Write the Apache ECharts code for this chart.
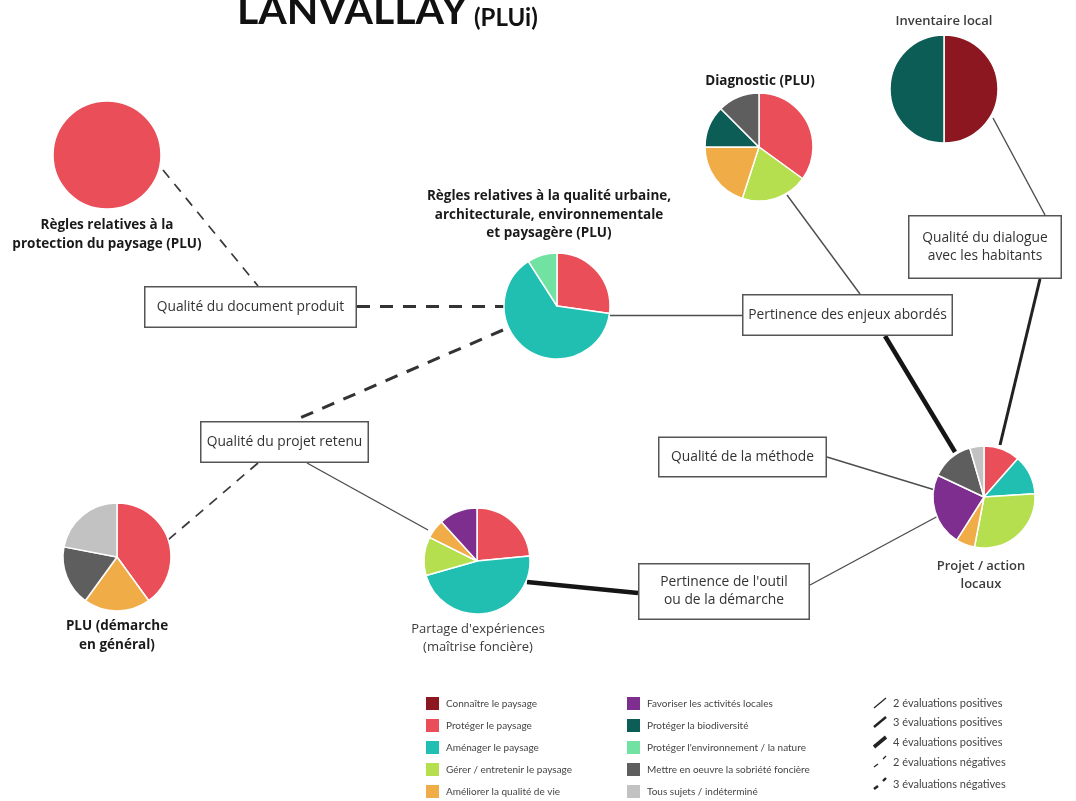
<!DOCTYPE html>
<html>
<head>
<meta charset="utf-8">
<script src="https://cdn.jsdelivr.net/npm/echarts@6/dist/echarts.min.js"></script>
<style>
  html, body { margin: 0; background: #fff; }
  #chart { width: 1076px; height: 801px; }
</style>
</head>
<body>
<div id="chart"></div>
<script>
// thématiques (ordre de la légende)
var categories = ['Connaître le paysage', 'Protéger le paysage', 'Aménager le paysage',
  'Gérer / entretenir le paysage', 'Améliorer la qualité de vie', 'Favoriser les activités locales',
  'Protéger la biodiversité', "Protéger l'environnement / la nature",
  'Mettre en oeuvre la sobriété foncière', 'Tous sujets / indéterminé'];
var catColors = ['#8c1721', '#ea4f59', '#20bfb1', '#b6df50', '#f0ac47', '#7d2e8f',
  '#0c5d55', '#72e2a2', '#5e5e5e', '#c2c2c2'];

// parts de chaque camembert (sens horaire depuis midi)
var protectionCats = ['Protéger le paysage'];
var protectionVals = [1];
var diagnosticCats = ['Protéger le paysage', 'Gérer / entretenir le paysage', 'Améliorer la qualité de vie', 'Protéger la biodiversité', 'Mettre en oeuvre la sobriété foncière'];
var diagnosticVals = [35, 20, 20, 12.5, 12.5];
var inventaireCats = ['Connaître le paysage', 'Protéger la biodiversité'];
var inventaireVals = [1, 1];
var urbaineCats = ['Protéger le paysage', 'Aménager le paysage', "Protéger l'environnement / la nature"];
var urbaineVals = [3, 7, 1];
var partageCats = ['Protéger le paysage', 'Aménager le paysage', 'Gérer / entretenir le paysage', 'Améliorer la qualité de vie', 'Favoriser les activités locales'];
var partageVals = [4, 8, 2, 1, 2];
var projetCats = ['Protéger le paysage', 'Aménager le paysage', 'Gérer / entretenir le paysage', 'Améliorer la qualité de vie', 'Favoriser les activités locales', 'Mettre en oeuvre la sobriété foncière', 'Tous sujets / indéterminé'];
var projetVals = [11.5, 12.5, 29, 6, 23, 13.5, 4.5];
var pluCats = ['Protéger le paysage', 'Améliorer la qualité de vie', 'Mettre en oeuvre la sobriété foncière', 'Tous sujets / indéterminé'];
var pluVals = [40, 20, 18, 22];

// critères d'évaluation (cadres)
var criteria = ['doc', 'enjeux', 'dialogue', 'retenu', 'methode', 'outil'];
var criteriaText = ['Qualité du document produit', 'Pertinence des enjeux abordés',
  'Qualité du dialogue\navec les habitants', 'Qualité du projet retenu',
  'Qualité de la méthode', "Pertinence de l'outil\nou de la démarche"];

// liens : [de, vers, nombre d'évaluations (négatif = évaluations négatives)]
var links = [
  ['protection', 'doc', -2], ['doc', 'urbaine', -3],
  ['urbaine', 'retenu', -3], ['retenu', 'plu', -2],
  ['retenu', 'partage', 2], ['partage', 'outil', 4], ['outil', 'projet', 2],
  ['methode', 'projet', 2], ['urbaine', 'enjeux', 2], ['diagnostic', 'enjeux', 2],
  ['enjeux', 'projet', 4], ['inventaire', 'dialogue', 2], ['dialogue', 'projet', 3]
];

var evalKinds = [2, 3, 4, -2, -3];
var evalLabels = ['2 évaluations positives', '3 évaluations positives', '4 évaluations positives',
  '2 évaluations négatives', '3 évaluations négatives'];

// ---- mise en page ----
var pieLayout = {
  protection: { center: [107, 155], r: 54, cats: protectionCats, vals: protectionVals,
    title: 'Règles relatives à la\nprotection du paysage (PLU)', tx: 107, ty: 216, bold: true },
  diagnostic: { center: [759, 147], r: 54, cats: diagnosticCats, vals: diagnosticVals,
    title: 'Diagnostic (PLU)', tx: 760, ty: 72, bold: true },
  inventaire: { center: [944, 89], r: 54, cats: inventaireCats, vals: inventaireVals,
    title: 'Inventaire local', tx: 944, ty: 12, semi: true },
  urbaine: { center: [557, 306], r: 53, cats: urbaineCats, vals: urbaineVals,
    title: 'Règles relatives à la qualité urbaine,\narchitecturale, environnementale\net paysagère (PLU)', tx: 549, ty: 187, bold: true },
  partage: { center: [477, 561], r: 53, cats: partageCats, vals: partageVals,
    title: "Partage d'expériences\n(maîtrise foncière)", tx: 478, ty: 620 },
  projet: { center: [984, 497], r: 51, cats: projetCats, vals: projetVals,
    title: 'Projet / action\nlocaux', tx: 981, ty: 557, semi: true },
  plu: { center: [117, 557], r: 54, cats: pluCats, vals: pluVals,
    title: 'PLU (démarche\nen général)', tx: 117, ty: 617, bold: true }
};
var boxLayout = {
  doc: [250.5, 307, 213, 42], enjeux: [847.5, 315, 211, 42], dialogue: [985, 247, 154, 64],
  retenu: [284.5, 442, 169, 42], methode: [742.5, 457, 169, 41], outil: [724, 591.5, 172, 57]
};
// points d'accroche des traits [depuis, vers]
var linkEnds = [
  [[163, 170], [258, 286]], [[357, 306], [507, 306]],
  [[503, 330], [293, 421]], [[258, 463], [168, 540]],
  [[307, 463], [428, 530]], [[527, 582], [638, 593]], [[810, 585], [940, 515]],
  [[827, 457], [935, 490]], [[610, 315], [742, 315]], [[787, 195], [860, 294]],
  [[885, 336], [955, 452]], [[993, 118], [1045, 215]], [[1040, 279], [1000, 445]]
];

function evalStyle(n) {
  if (n === 2) return { width: 1.4, type: 'solid', color: '#4d4d4d' };
  if (n === 3) return { width: 3, type: 'solid', color: '#222' };
  if (n === 4) return { width: 4.5, type: 'solid', color: '#151515' };
  if (n === -2) return { width: 1.7, type: [10, 8], color: '#3a3a3a' };
  return { width: 3, type: [13, 10], color: '#333' };
}

var FONT = '"Open Sans", Lato, sans-serif';
var LH = 18;
var colorOf = {};
categories.forEach(function (c, i) { colorOf[c] = catColors[i]; });

// graphe : cadres + points d'accroche
var nodes = [];
var edges = [];
criteria.forEach(function (id, i) {
  var b = boxLayout[id];
  var nLines = criteriaText[i].split('\n').length;
  var vp = (b[3] - nLines * LH) / 2 - 1.5;
  nodes.push({
    name: id, value: [b[0], b[1]], symbol: 'circle', symbolSize: 1,
    itemStyle: { color: 'rgba(0,0,0,0)' },
    label: {
      show: true, formatter: criteriaText[i],
      width: b[2] - 3, padding: [vp, 0], backgroundColor: '#fff',
      borderColor: '#555', borderWidth: 1.5
    }
  });
});
links.forEach(function (l, i) {
  var e = linkEnds[i];
  nodes.push({ name: 'a' + i, value: e[0], symbolSize: 0, itemStyle: { opacity: 0 }, label: { show: false } });
  nodes.push({ name: 'b' + i, value: e[1], symbolSize: 0, itemStyle: { opacity: 0 }, label: { show: false } });
  edges.push({ source: 'a' + i, target: 'b' + i, lineStyle: evalStyle(l[2]) });
});

var series = [{
  type: 'graph', coordinateSystem: 'cartesian2d', layout: 'none',
  silent: true, z: 1, edgeSymbol: ['none', 'none'],
  label: { position: 'inside', fontFamily: FONT, fontSize: 13.8, color: '#333', lineHeight: LH },
  lineStyle: { opacity: 1, curveness: 0 },
  emphasis: { disabled: true },
  data: nodes, links: edges
}];

var graphics = [
  { type: 'text', x: 237, y: 11, style: { text: 'LANVALLAY', font: 'bold 41px Lato, sans-serif', fill: '#111', verticalAlign: 'middle' } },
  { type: 'text', x: 474, y: 18, style: { text: '(PLUi)', font: 'bold 24px Lato, sans-serif', fill: '#111', verticalAlign: 'middle' } }
];

Object.keys(pieLayout).forEach(function (id) {
  var p = pieLayout[id];
  series.push({
    type: 'pie', z: 3, silent: true, center: p.center, radius: p.r,
    startAngle: 90, clockwise: true, label: { show: false }, labelLine: { show: false },
    emphasis: { disabled: true },
    itemStyle: { borderColor: '#fff', borderWidth: 1.5 },
    data: p.cats.map(function (c, k) { return { name: c, value: p.vals[k], itemStyle: { color: colorOf[c] } }; })
  });
  var w = p.bold ? 'bold' : (p.semi ? '600' : 'normal');
  graphics.push({
    type: 'text', x: p.tx, y: p.ty,
    style: { text: p.title, font: w + (p.bold ? ' 13.5px ' : ' 13px ') + FONT, fill: p.bold ? '#1a1a1a' : '#3c3c3c',
      align: 'center', verticalAlign: 'top', lineHeight: 18.5 }
  });
});

// légende des traits
evalKinds.forEach(function (k, i) {
  var y = [703, 722, 742, 762, 784][i];
  if (k > 0) {
    graphics.push({ type: 'line', shape: { x1: 874, y1: y + 5, x2: 886, y2: y - 5 },
      style: { stroke: '#222', lineWidth: [1.2, 2.4, 3.6][k - 2] } });
  } else {
    var lw = k === -2 ? 1.2 : 2.4;
    graphics.push({ type: 'line', shape: { x1: 874, y1: y + 5, x2: 878, y2: y + 2 }, style: { stroke: '#222', lineWidth: lw } });
    graphics.push({ type: 'line', shape: { x1: 883, y1: y - 3, x2: 886, y2: y - 6 }, style: { stroke: '#222', lineWidth: lw } });
  }
  graphics.push({ type: 'text', x: 893, y: y, style: { text: evalLabels[i], font: '11px Lato, sans-serif', fill: '#444', verticalAlign: 'middle' } });
});

var legendBase = {
  orient: 'vertical', icon: 'rect', itemWidth: 15, itemHeight: 15, itemGap: 5,
  padding: 0, selectedMode: false, top: 695, height: 140,
  textStyle: { fontFamily: 'Lato, sans-serif', fontSize: 10, lineHeight: 13, color: '#444', padding: [0, 0, 0, 1] }
};

var chart = echarts.init(document.getElementById('chart'));
chart.setOption({
  animation: false,
  backgroundColor: '#fff',
  grid: { left: 0, top: 0, right: 0, bottom: 0 },
  xAxis: { type: 'value', min: 0, max: 1076, show: false },
  yAxis: { type: 'value', min: 0, max: 801, inverse: true, show: false },
  legend: [
    Object.assign({}, legendBase, { left: 424, data: categories.slice(0, 5) }),
    Object.assign({}, legendBase, { left: 625, data: categories.slice(5) })
  ],
  graphic: graphics,
  series: series
});
</script>
</body>
</html>
